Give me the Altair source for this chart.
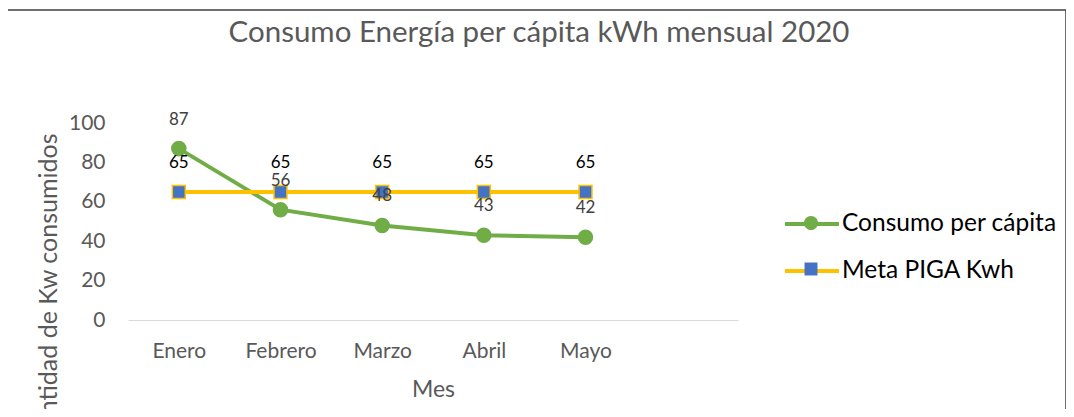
import altair as alt
import pandas as pd

# ---- data ----
months = ["Enero", "Febrero", "Marzo", "Abril", "Mayo"]
consumo = [87, 56, 48, 43, 42]
meta = [65, 65, 65, 65, 65]
series_names = ["Consumo per cápita", "Meta PIGA Kwh"]
y_ticks = [0, 20, 40, 60, 80, 100]

line_colors = ["#70AD47", "#FFC000"]
marker_fills = ["#70AD47", "#4472C4"]
marker_paths = [
    "M-0.26,0A0.26,0.26,0,1,0,0.26,0A0.26,0.26,0,1,0,-0.26,0Z",
    "M-0.24,-0.24H0.24V0.24H-0.24Z",
]

rows = []
for m, c, t in zip(months, consumo, meta):
    rows.append({"mes": m, "serie": series_names[0], "valor": c})
    rows.append({"mes": m, "serie": series_names[1], "valor": t})
df = pd.DataFrame(rows)
df["serie_m"] = df["serie"]

FONT = "Lato"
GRAY = "#595959"
W, H = 610, 197

x_enc = alt.X(
    "mes:N",
    scale=alt.Scale(type="point", domain=months + [" "], padding=0.5),
    axis=alt.Axis(
        title="Mes", labelAngle=0, ticks=False, tickSize=0, grid=False,
        domainColor="#D9D9D9", domainWidth=1,
        labelFont=FONT, labelFontSize=21, labelColor=GRAY,
        labelBaseline="middle", labelPadding=31,
        titleFont=FONT, titleFontSize=23, titleColor=GRAY,
        titleFontWeight="normal", titlePadding=17,
    ),
)
y_enc = alt.Y(
    "valor:Q",
    scale=alt.Scale(domain=[0, 100], nice=False),
    axis=alt.Axis(
        title="Cantidad de Kw consumidos", values=y_ticks, ticks=False, tickSize=0,
        grid=False, domain=False,
        labelFont=FONT, labelFontSize=21, labelColor=GRAY, labelPadding=23,
        titleFont=FONT, titleFontSize=25, titleColor=GRAY, titleFontWeight="normal",
        titleAlign="right", titleBaseline="alphabetic", titleX=-72, titleY=10,
    ),
)

legend_common = dict(
    orient="none", legendX=655, legendY=72, title=None, padding=0,
    labelFont=FONT, labelFontSize=24.5, labelColor="#000000", labelOffset=1,
    labelLimit=400, rowPadding=6, symbolSize=2916, direction="vertical",
)

stroke_scale = alt.Scale(domain=series_names, range=line_colors)
legend_a = alt.Legend(symbolType="stroke", symbolStrokeWidth=4, **legend_common)

lines = alt.Chart(df).mark_line(strokeWidth=4).encode(
    x=x_enc, y=y_enc,
    stroke=alt.Stroke("serie:N", scale=stroke_scale, legend=legend_a),
)

marker_stroke_expr = (
    f"datum.value === '{series_names[1]}' ? '{line_colors[1]}' : '{line_colors[0]}'"
)
legend_b = alt.Legend(
    symbolStrokeWidth=1.5, labelOpacity=0, symbolOpacity=1,
    symbolStrokeColor=alt.ExprRef(expr=marker_stroke_expr),
    **legend_common,
)
points = alt.Chart(df).mark_point(size=2916, strokeWidth=1.5, opacity=1).encode(
    x=x_enc, y=y_enc,
    shape=alt.Shape("serie_m:N", scale=alt.Scale(range=marker_paths), legend=legend_b),
    fill=alt.Fill("serie_m:N", scale=alt.Scale(range=marker_fills), legend=legend_b),
    stroke=alt.Stroke("serie:N", scale=stroke_scale, legend=legend_a),
)

labels_c = alt.Chart(df).transform_filter(
    alt.datum.serie == series_names[0]
).mark_text(dy=-29, fontSize=17, font=FONT, color="#404040", baseline="middle").encode(
    x=x_enc, y=y_enc, text="valor:Q"
)
labels_m = alt.Chart(df).transform_filter(
    alt.datum.serie == series_names[1]
).mark_text(dy=-29, fontSize=17, font=FONT, color="#000000", baseline="middle").encode(
    x=x_enc, y=y_enc, text="valor:Q"
)

frame = alt.Chart(pd.DataFrame({"k": [0]})).mark_rect(
    fill="transparent", stroke="#404040", strokeWidth=1.5
).encode(
    x=alt.value(-121), x2=alt.value(938), y=alt.value(-113), y2=alt.value(400)
)

chart = alt.layer(frame, lines, points, labels_c, labels_m).properties(
    width=W, height=H,
    title=alt.TitleParams(
        "Consumo Energía per cápita kWh mensual 2020",
        font=FONT, fontSize=29.5, color=GRAY, fontWeight="normal",
        anchor="middle", frame="group", dx=106, dy=66, baseline="alphabetic",
    ),
    autosize=alt.AutoSizeParams(type="none"),
    padding={"left": 120, "top": 115, "right": 328, "bottom": 89},
).configure_view(stroke=None)

chart.save("out.html", embed_options={"renderer": "svg", "actions": False})
